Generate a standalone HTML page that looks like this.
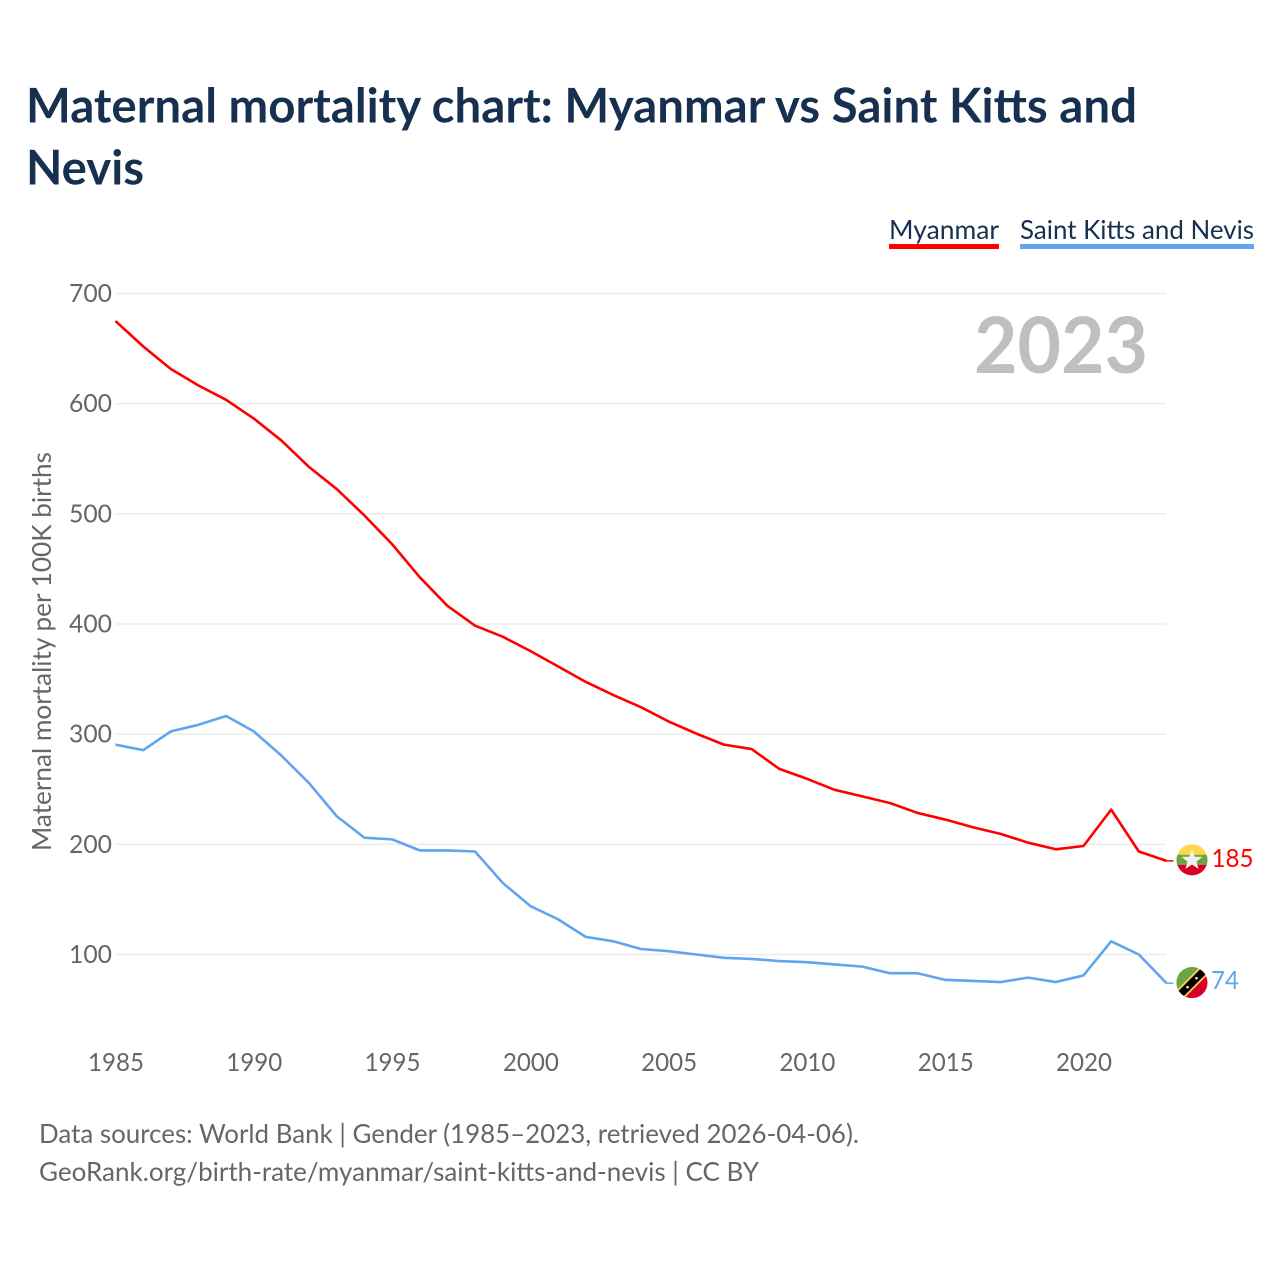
<!DOCTYPE html>
<html lang="en">
<head>
<meta charset="utf-8">
<title>Maternal mortality chart: Myanmar vs Saint Kitts and Nevis</title>
<style>
html,body{margin:0;padding:0;background:#fff;width:1280px;height:1280px;overflow:hidden}
svg{display:block}
text{font-family:"Lato","Carlito","Liberation Sans",sans-serif}
.tick{font-size:25.5px;fill:#666}
.ytitle{font-size:26px;fill:#666}
.title{font-size:48px;font-weight:700;fill:#17304f}
.legend{font-size:26px;fill:#17304f}
.foot{font-size:26px;fill:#666}
</style>
</head>
<body>
<svg id="chart" xmlns="http://www.w3.org/2000/svg" width="1280" height="1280" viewBox="0 0 1280 1280">
  <defs>
    <clipPath id="flag-clip"><circle cx="0" cy="0" r="15.5"/></clipPath>
  </defs>
  <text class="title" x="26" y="122.5" textLength="1111" lengthAdjust="spacingAndGlyphs">Maternal mortality chart: Myanmar vs Saint Kitts and</text>
  <text class="title" x="26" y="184.5" textLength="118" lengthAdjust="spacingAndGlyphs">Nevis</text>

  <g>
    <text class="legend" x="889" y="239" textLength="110" lengthAdjust="spacingAndGlyphs">Myanmar</text>
    <rect x="889" y="244" width="110" height="5" fill="#ff0000"/>
  </g>
  <g>
    <text class="legend" x="1020" y="239" textLength="234" lengthAdjust="spacingAndGlyphs">Saint Kitts and Nevis</text>
    <rect x="1020" y="244" width="234" height="5" fill="#60a5ee"/>
  </g>

  <g id="grid"></g>
  <g id="yticks"></g>
  <g id="xticks"></g>
  <text class="ytitle" transform="translate(51,851) rotate(-90)" x="0" y="0" textLength="399" lengthAdjust="spacingAndGlyphs">Maternal mortality per 100K births</text>

  <text x="1148" y="373" text-anchor="end" font-size="78" font-weight="700" fill="#bfbfbf" textLength="174" lengthAdjust="spacingAndGlyphs">2023</text>

  <g id="series"></g>

  <g id="flag-myanmar">
    <g clip-path="url(#flag-clip)">
      <rect x="-16" y="-16" width="32" height="32" fill="#ffd84a"/>
      <rect x="-16" y="-5" width="32" height="10" fill="#6da544"/>
      <rect x="-16" y="5" width="32" height="11" fill="#d80027"/>
      <polygon points="0,-10 2.9,-3 10.5,-3 4.5,1.8 6.6,9 0,4.8 -6.6,9 -4.5,1.8 -10.5,-3 -2.9,-3" fill="#f0f0f0"/>
    </g>
  </g>
  <g id="flag-kitts">
    <g clip-path="url(#flag-clip)">
      <rect x="-16" y="-16" width="32" height="32" fill="#d80027"/>
      <polygon points="-16,-16 16,-16 -16,16" fill="#6da544"/>
      <line x1="-16" y1="16" x2="16" y2="-16" stroke="#ffd84a" stroke-width="11"/>
      <line x1="-16" y1="16" x2="16" y2="-16" stroke="#000" stroke-width="7.5"/>
      <circle cx="-4.5" cy="4.5" r="1.3" fill="#f0f0f0"/>
      <circle cx="4.5" cy="-4.5" r="1.3" fill="#f0f0f0"/>
    </g>
  </g>
  <g id="endlabels"></g>

  <text class="foot" x="39" y="1143" textLength="820" lengthAdjust="spacingAndGlyphs">Data sources: World Bank | Gender (1985–2023, retrieved 2026-04-06).</text>
  <a><text class="foot" x="39" y="1181" textLength="720" lengthAdjust="spacingAndGlyphs">GeoRank.org/birth-rate/myanmar/saint-kitts-and-nevis | CC BY</text></a>
</svg>
<script>
const years = [1985,1986,1987,1988,1989,1990,1991,1992,1993,1994,1995,1996,1997,1998,1999,2000,2001,2002,2003,2004,2005,2006,2007,2008,2009,2010,2011,2012,2013,2014,2015,2016,2017,2018,2019,2020,2021,2022,2023];
const myanmarValues = [675,652,631.5,616.5,603.5,586.5,566.5,542.5,522.5,498.5,472.5,442.5,416.5,398.5,388.5,375.5,361.5,347.5,335.5,324.5,311.5,300.5,290.5,286.5,268.5,259.5,249.5,243.5,237.5,228.5,222.5,215.5,209.5,201.5,195.5,198.5,231.5,193.5,185];
const kittsValues = [290.5,285.5,302.5,308.5,316.5,302.5,280.5,255.5,225.5,206,204.5,194.5,194.5,193.5,165,144,132,116,112,105,103,100,97,96,94,93,91,89,83,83,77,76,75,79,75,81,112,100,74];
const yTickValues = [100,200,300,400,500,600,700];
const xTickValues = [1985,1990,1995,2000,2005,2010,2015,2020];

const NS = 'http://www.w3.org/2000/svg';
const DIGIT_WIDTH = 14;
function xScale(year){ return 115.5 + (year - 1985) * (968 / 35); }
function yScale(v){ return 954.5 - (v - 100) * (661 / 600); }
function make(tag, attrs, parent, txt){
  const el = document.createElementNS(NS, tag);
  for (const k in attrs) el.setAttribute(k, attrs[k]);
  if (txt !== undefined) el.textContent = txt;
  parent.appendChild(el);
  return el;
}
function digitLength(s){ return s.length * DIGIT_WIDTH; }
const grid = document.getElementById('grid');
const yticks = document.getElementById('yticks');
const xticks = document.getElementById('xticks');
const series = document.getElementById('series');
const endlabels = document.getElementById('endlabels');

yTickValues.forEach(function(v){
  const line = make('line', {x1:116, x2:1166, y1:yScale(v), y2:yScale(v), stroke:'#ececec', 'stroke-width':1.5}, grid);
  
  
  const s = String(v);
  const t = make('text', {class:'tick', x:112, y:yScale(v)+8.5, 'text-anchor':'end', textLength:digitLength(s)+1, lengthAdjust:'spacingAndGlyphs'}, yticks, s);
  
  
});
xTickValues.forEach(function(yr){
  const s = String(yr);
  const t = make('text', {class:'tick', x:xScale(yr)+0.5, y:1071, 'text-anchor':'middle', textLength:digitLength(s), lengthAdjust:'spacingAndGlyphs'}, xticks, s);
  
  
});

function pathFor(vals){
  return vals.map(function(v,i){ return (i ? 'L' : 'M') + xScale(years[i]).toFixed(2) + ' ' + yScale(v).toFixed(2); }).join(' ');
}
const lineM = make('path', {d:pathFor(myanmarValues), fill:'none', stroke:'#ff0000', 'stroke-width':2.6, 'stroke-linejoin':'round'}, series);


const lineK = make('path', {d:pathFor(kittsValues), fill:'none', stroke:'#60a5ee', 'stroke-width':2.6, 'stroke-linejoin':'round'}, series);



const lastX = xScale(years[years.length-1]);
const lastM = myanmarValues[myanmarValues.length-1];
const lastK = kittsValues[kittsValues.length-1];
const stubM = make('line', {x1:lastX, x2:lastX+7, y1:yScale(lastM), y2:yScale(lastM), stroke:'#ff0000', 'stroke-width':1.5}, series);


const stubK = make('line', {x1:lastX, x2:lastX+7, y1:yScale(lastK), y2:yScale(lastK), stroke:'#60a5ee', 'stroke-width':1.5}, series);



document.getElementById('flag-myanmar').setAttribute('transform', 'translate(1192,' + (yScale(lastM)-1) + ')');
document.getElementById('flag-kitts').setAttribute('transform', 'translate(1192,' + (yScale(lastK)-0.5) + ')');

const textM = String(lastM);
const labelM = make('text', {x:1211.5, y:yScale(lastM)+6, 'font-size':25.5, fill:'#ff0000', textLength:digitLength(textM), lengthAdjust:'spacingAndGlyphs'}, endlabels, textM);


const textK = String(lastK);
const labelK = make('text', {x:1211, y:yScale(lastK)+6, 'font-size':25.5, fill:'#60a5ee', textLength:digitLength(textK), lengthAdjust:'spacingAndGlyphs'}, endlabels, textK);


</script>
</body>
</html>
